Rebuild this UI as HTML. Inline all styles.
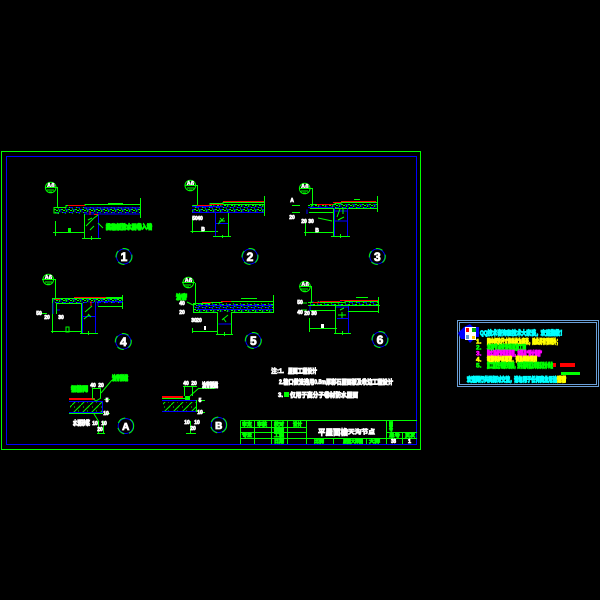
<!DOCTYPE html>
<html><head><meta charset="utf-8"><style>
html,body{margin:0;padding:0;background:#000;width:600px;height:600px;overflow:hidden}
svg{display:block}
text{font-family:"Liberation Sans","Noto Sans CJK SC",sans-serif;font-weight:bold}
.g{stroke:#0f0;fill:none;stroke-width:1}
.b{stroke:#00f;fill:none;stroke-width:1}
.r{stroke:#f00;fill:none;stroke-width:1}
.bt{fill:#0f0;stroke:#0f0;stroke-width:.8}
.wt{fill:#fff;stroke:#fff;stroke-width:.7}
.d{fill:#fff;stroke:#fff;stroke-width:.7;font-size:5px;text-anchor:middle}
.n{fill:#fff;stroke:#fff;stroke-width:.8;font-size:12px;text-anchor:middle}
.bl{fill:#fff;stroke:#fff;stroke-width:.5;font-size:6px;text-anchor:middle}
.p{stroke-width:.9}
</style></head><body>
<svg width="600" height="600" viewBox="0 0 600 600" xmlns="http://www.w3.org/2000/svg">
<defs>
<pattern id="h" width="7" height="5" patternUnits="userSpaceOnUse">
<path d="M0 .5h2M4 0l-1 2M6 2.5h1M2 3.5l1 1M5 4.5h2" stroke="#0f0" stroke-width="1" fill="none"/>
<path d="M0 2.5h3M5 .5v2M3 4.5h2" stroke="#00f" stroke-width="1" fill="none"/>
</pattern>
<pattern id="x" width="9" height="9" patternUnits="userSpaceOnUse">
<path d="M0 9L9 0M2 2h1M6 6h1M7 2h.8" stroke="#0f0" stroke-width="1" fill="none"/>
</pattern>
</defs>
<rect width="600" height="600" fill="#000"/>
<g shape-rendering="crispEdges">
<rect x="1.5" y="151.5" width="419" height="298" class="g"/>
<rect x="6.5" y="156.5" width="410" height="288" class="b"/>
<path class="g" d="M240.5 420.5H417M240.5 420.5V444M254.5 420.5V444M271.5 420.5V444M287.5 420.5V444M306.5 420.5V444M386.5 420.5V444M240 427.5H306M240 432.5H306M386 432.5H417M240 438.5H417M333.5 438.5V444M366.5 438.5V444M402.5 432.5V444"/>
</g>
<g font-size="5">
<text class="bt" x="242" y="426" textLength="10" lengthAdjust="spacingAndGlyphs">审定</text>
<text class="bt" x="257" y="426" textLength="10" lengthAdjust="spacingAndGlyphs">审核</text>
<text class="bt" x="274" y="426" textLength="10" lengthAdjust="spacingAndGlyphs">校对</text>
<text class="bt" x="293" y="426" textLength="9" lengthAdjust="spacingAndGlyphs">设计</text>
<text class="bt" x="274" y="432" textLength="10" lengthAdjust="spacingAndGlyphs">制图</text>
<text class="bt" x="242" y="437" textLength="10" lengthAdjust="spacingAndGlyphs">专业</text>
<text class="bt" x="274" y="437" textLength="10" lengthAdjust="spacingAndGlyphs">工程</text>
<text class="bt" x="274" y="443" textLength="10" lengthAdjust="spacingAndGlyphs">日期</text>
<text class="bt" x="314" y="443" textLength="10" lengthAdjust="spacingAndGlyphs">比例</text>
<text class="bt" x="343" y="443" textLength="20" lengthAdjust="spacingAndGlyphs">屋面大样图</text>
<text class="bt" x="369" y="443" textLength="11" lengthAdjust="spacingAndGlyphs">大样</text>
<text class="bt" x="389" y="426" textLength="4" lengthAdjust="spacingAndGlyphs">图</text>
<text class="bt" x="389" y="431" textLength="4" lengthAdjust="spacingAndGlyphs">号</text>
<text class="bt" x="389" y="437" textLength="11" lengthAdjust="spacingAndGlyphs">总号</text>
<text class="bt" x="405" y="437" textLength="10" lengthAdjust="spacingAndGlyphs">页次</text>
<text class="wt" x="391" y="443" textLength="5" lengthAdjust="spacingAndGlyphs">38</text>
<text class="wt" x="408" y="443" textLength="3" lengthAdjust="spacingAndGlyphs">1</text>
</g>
<text class="wt" x="318" y="435" font-size="8" textLength="30" lengthAdjust="spacingAndGlyphs">平屋面檐</text>
<text class="wt" x="348" y="434" font-size="6" textLength="27" lengthAdjust="spacingAndGlyphs">天沟节点</text>

<!-- detail 1 -->
<rect x="54" y="207" width="86" height="7" fill="url(#h)"/>
<g shape-rendering="crispEdges">
<path class="b" d="M84 208H140M84 214H140"/>
<path class="g" d="M54 207.5H66V205.5H85V204.5H140M54 207V213H59M140.5 198V218M108 203.5H123M57.5 187V207M84.5 214V238M82 238.5H101M55.5 221V236M53 232.5H84M91.5 236v4"/>
<path class="b" d="M98.5 214V238"/>
<path class="r" d="M68 205.5H85M90 211V215M94 214.5H98"/>
<rect x="68" y="228" width="3" height="4" fill="#0f0"/>
</g>
<path d="M86 226l8-8 4-3M88 220l4-2M90 230l4-4M98 223l5 5" class="g"/>
<text class="bt" x="106" y="229" font-size="6.5" textLength="46" lengthAdjust="spacingAndGlyphs" style="stroke-width:1.2">挑檐板防水层卷入墙</text>
<g><circle cx="50.7" cy="187.5" r="5.3" fill="none" stroke="#0f0"/><text class="bl" x="50.7" y="187.5">A6</text><path class="g" d="M45 187.5H57M47 190h7M49 192h3"/></g>
<circle cx="124" cy="256.5" r="7.5" fill="none" stroke="#00f"/><circle cx="124" cy="256.5" r="8" fill="none" stroke="#0f0" stroke-dasharray="7 5"/><text class="n" x="124" y="261">1</text>

<!-- detail 2 -->
<rect x="192" y="205" width="72" height="8" fill="url(#h)"/>
<g shape-rendering="crispEdges">
<path class="b" d="M192 212.5H264M192 206.5H223"/>
<path class="g" d="M193 205.5H210V203.5H223V202.5H264M264.5 196V216M222 204.5H264M197.5 185V205M228.5 213V236M213 236.5H231M192.5 217V233M190.5 231.5H218M222.5 235v3"/>
<path class="r" d="M197 205.5H210M210 204.5H223M223 201.5H264"/>
<path class="b" d="M215.5 213V236M216 223.5H228"/>
</g>
<path class="g" d="M218 224l6-6M220 218l3 3M219 221h6"/>
<text class="d" x="195" y="220">50</text><text class="d" x="200" y="220">40</text><text class="d" x="203" y="231">B</text>
<g><circle cx="190.3" cy="185.5" r="5.3" fill="none" stroke="#0f0"/><text class="bl" x="190.3" y="185.5">A6</text><path class="g" d="M185 185.5H197M187 188h7M189 190h3"/></g>
<circle cx="250" cy="256.5" r="7.5" fill="none" stroke="#00f"/><circle cx="250" cy="256.5" r="8" fill="none" stroke="#0f0" stroke-dasharray="7 5"/><text class="n" x="250" y="261">2</text>

<!-- detail 3 -->
<rect x="308" y="204" width="70" height="5" fill="url(#h)"/>
<g shape-rendering="crispEdges">
<path class="b" d="M307 209.5V214M310 207.5H333M333 211H347"/>
<path class="g" d="M310 204.5H335V203.5H341V202.5H377M377.5 196V212M310 208.5H377M309 212.5H333M312.5 188V206M305.5 220V236M304 232.5H335M292 205.5H300M292 212.5H300M333.5 208V237M331 236.5H350M340.5 234v4M347.5 209V214M354 199.5H360"/>
<path class="b" d="M334.5 208V236M347.5 208V236M335 221H347"/>
<path class="r" d="M317 204.5H333M333 202.5H341M341 201.5H376"/>
</g>
<path class="g" d="M338 220l6-3M337 217l3-8M343 209v5M318 218l14 3"/>
<text class="d" x="292" y="202">A</text><text class="d" x="292" y="219">20</text><text class="d" x="304" y="223">20</text><text class="d" x="311" y="223">30</text><text class="d" x="317" y="232">B</text>
<g><circle cx="304.7" cy="188.5" r="5.3" fill="none" stroke="#0f0"/><text class="bl" x="304.7" y="188.5">A6</text><path class="g" d="M299 188.5H312M301 191h7M303 193h3"/></g>
<circle cx="377.3" cy="256.5" r="7.5" fill="none" stroke="#00f"/><circle cx="377.3" cy="256.5" r="8" fill="none" stroke="#0f0" stroke-dasharray="7 5"/><text class="n" x="377.3" y="261">3</text>

<!-- detail 4 -->
<rect x="52" y="299" width="71" height="4" fill="url(#h)"/>
<g shape-rendering="crispEdges">
<path class="g" d="M52 298.5H123M52.5 299V320M56.5 303V314M56 303.5H81M98 306.5H122M122.5 295V309M55.5 279V298M52.5 320V333M51 331.5H82M81.5 303V333M80 333.5H98M88.5 331v4M40 313.5H47M66 299v2M106 297.5H123"/>
<path class="b" d="M53 303V314M82.5 303V333M95.5 302V333M83 316.5H95M98 301.5H123M98 301V306M57 310H60"/>
<path class="r" d="M74 297.5H106M55 299.5H60M91 301V306"/>
<rect x="66" y="327" width="3" height="5" fill="none" stroke="#0f0"/>
</g>
<path class="g" d="M85 312l7-6M84 319l5-4M88 314l3 3"/>
<text class="d" x="39" y="315">50</text><text class="d" x="47" y="319">20</text><text class="d" x="61" y="319">30</text>
<g><circle cx="48.3" cy="279.5" r="5.3" fill="none" stroke="#0f0"/><text class="bl" x="48.3" y="279.5">A6</text><path class="g" d="M42 279.5H55M45 282h7M47 284h3"/></g>
<circle cx="123.3" cy="341.5" r="7.5" fill="none" stroke="#00f"/><circle cx="123.3" cy="341.5" r="8" fill="none" stroke="#0f0" stroke-dasharray="7 5"/><text class="n" x="123.3" y="346">4</text>

<!-- detail 5 -->
<rect x="194" y="303" width="79" height="9" fill="url(#h)"/>
<g shape-rendering="crispEdges">
<path class="b" d="M197 305.5H273M197 309.5H273M218.5 324H231"/>
<path class="g" d="M193 303.5H210V302.5H222V301.5H273M273.5 295V313M193.5 303V312M193 312.5H218M231 312.5H273M195.5 283V304M217.5 312V334M231.5 312V334M216 334.5H233M224.5 332v4M192.5 328V333M192 331.5H218M241 298.5H257"/>
<path class="r" d="M202 302.5H211M221 301.5H231"/>
<rect x="204" y="326" width="2" height="4" fill="#fff"/>
</g>
<path class="g" d="M222 320l6-5M223 318l3 4M187 302l6 3"/>
<text class="bt" x="176" y="299" font-size="6.5" textLength="11" lengthAdjust="spacingAndGlyphs" style="stroke-width:1.2">油膏</text>
<text class="d" x="182" y="305">40</text><text class="d" x="182" y="314">20</text><text class="d" x="194" y="322">30</text><text class="d" x="199" y="322">20</text>
<g><circle cx="188.3" cy="282.5" r="5.3" fill="none" stroke="#0f0"/><text class="bl" x="188.3" y="282.5">A6</text><path class="g" d="M182 282.5H195M184 285h7M186 287h3"/></g>
<circle cx="253.3" cy="340.5" r="7.5" fill="none" stroke="#00f"/><circle cx="253.3" cy="340.5" r="8" fill="none" stroke="#0f0" stroke-dasharray="7 5"/><text class="n" x="253.3" y="345">5</text>

<!-- detail 6 -->
<rect x="310" y="301" width="68" height="5" fill="url(#h)"/>
<g shape-rendering="crispEdges">
<path class="b" d="M310 306v5M336 307H348M348.5 306V333M337 318.5H348"/>
<path class="g" d="M308 302.5H345V301.5H378M308 305.5H380M378.5 297V313M311.5 286V302M310 310.5H336M348 311.5H378M335.5 306V333M334 333.5H351M342.5 331v4M309.5 318V332M309 328.5H337M356 297.5H368M302 303h5M302 310h5"/>
<path class="r" d="M313 302.5H320M320 301.5H340M340 300.5H378"/>
<rect x="321" y="324" width="3" height="4" fill="#fff"/>
</g>
<path class="g" d="M338 315h8M342 312v6M340 310l4-2"/>
<text class="d" x="300" y="304">50</text><text class="d" x="300" y="314">40</text><text class="d" x="307" y="315">20</text><text class="d" x="314" y="315">30</text>
<g><circle cx="305" cy="286.5" r="5.3" fill="none" stroke="#0f0"/><text class="bl" x="305" y="286.5">A6</text><path class="g" d="M299 286.5H311M301 289h7M303 291h3"/></g>
<circle cx="380" cy="339.5" r="7.5" fill="none" stroke="#00f"/><circle cx="380" cy="339.5" r="8" fill="none" stroke="#0f0" stroke-dasharray="7 5"/><text class="n" x="380" y="344">6</text>

<!-- detail A -->
<rect x="70" y="402" width="33" height="11" fill="url(#x)"/>
<g shape-rendering="crispEdges">
<rect x="69" y="398" width="26" height="2" fill="#f00"/>
<path class="b" d="M69 401.5H103M102.5 401V413M69 412.5H103"/>
<path class="g" d="M69 413.5H103M92.5 389V398M100.5 389V398M92 388.5H101M104 399.5H110M104 413.5H110M98.5 421V433M103.5 421V433M97 433.5H105"/>
</g>
<path class="g" d="M92 398l4 3 5-3M101 393L112 380M94 414l5 8"/>
<text class="bt" x="112" y="380" font-size="6.5" textLength="16" lengthAdjust="spacingAndGlyphs" style="stroke-width:1.2">油膏嵌缝</text>
<text class="bt" x="71" y="391" font-size="6.5" textLength="17" lengthAdjust="spacingAndGlyphs" style="stroke-width:1.2">钢筋网</text>
<text class="wt" x="73" y="425" font-size="6.5" textLength="17" lengthAdjust="spacingAndGlyphs" style="stroke-width:1">水泥砂浆</text>
<text class="d" x="93" y="387">40</text><text class="d" x="101" y="387">20</text><text class="d" x="107" y="402">5</text><text class="d" x="106" y="415">10</text><text class="d" x="95" y="425">10</text><text class="d" x="104" y="425">10</text><text class="d" x="100" y="431">20</text>
<circle cx="125.7" cy="426" r="7.5" fill="none" stroke="#00f"/><circle cx="125.7" cy="426" r="8" fill="none" stroke="#0f0" stroke-dasharray="9 5"/><text class="n" x="125.7" y="430" style="font-size:10px">A</text>

<!-- detail B -->
<rect x="163" y="402" width="33" height="10" fill="url(#x)"/>
<g shape-rendering="crispEdges">
<rect x="162" y="396" width="21" height="2" fill="#f00"/>
<rect x="185" y="396" width="5" height="4" fill="#0f0"/>
<path class="b" d="M162 400.5H196M162 411.5H197"/>
<path class="g" d="M162 398.5H185M184.5 387V396M192.5 387V396M183 386.5H197M196.5 400V412M198 400.5H205M198 412.5H205M190.5 421V433M186 433.5H196M199 388.5H215"/>
</g>
<path class="g" d="M190 396l9-8"/>
<text class="wt" x="202" y="387" font-size="6.5" textLength="16" lengthAdjust="spacingAndGlyphs" style="stroke-width:1">油膏嵌缝</text>
<text class="d" x="186" y="385">40</text><text class="d" x="194" y="385">20</text><text class="d" x="200" y="402">5</text><text class="d" x="200" y="414">10</text><text class="d" x="187" y="424">10</text><text class="d" x="197" y="424">10</text><text class="d" x="193" y="430">20</text>
<circle cx="218.7" cy="425" r="7.5" fill="none" stroke="#00f"/><circle cx="218.7" cy="425" r="8" fill="none" stroke="#0f0" stroke-dasharray="9 5"/><text class="n" x="218.7" y="429" style="font-size:10px">B</text>

<!-- notes -->
<g font-size="6.5">
<text class="wt" x="271" y="373" textLength="13" lengthAdjust="spacingAndGlyphs">注:1.</text>
<text class="wt" x="288" y="373" textLength="29" lengthAdjust="spacingAndGlyphs" style="stroke-width:.9">屋面工程设计</text>
<text class="wt" x="279" y="384" textLength="114" lengthAdjust="spacingAndGlyphs" style="stroke-width:.9">2.檐口做法选用0.5m厚彩石屋面板及收边工程设计</text>
<text class="wt" x="278" y="397" textLength="5" lengthAdjust="spacingAndGlyphs">3.</text>
<text class="wt" x="290" y="397" textLength="68" lengthAdjust="spacingAndGlyphs" style="stroke-width:.9">仅用于高分子卷材防水屋面</text>
</g>
<rect x="284" y="392" width="5" height="5" fill="#0f0"/>

<!-- info panel -->
<g shape-rendering="crispEdges">
<rect x="457.5" y="320.5" width="141" height="66" fill="none" stroke="#6a9fd8"/>
<rect x="459.5" y="322.5" width="137" height="62" fill="none" stroke="#6a9fd8"/>
</g>
<path d="M470 324l3 3h6v10l-3 0-6 6-3-4h-6l-3-6 3-3 3-3z" fill="#00f"/>
<rect x="465" y="327" width="11" height="13" fill="#fff"/>
<rect x="466" y="328" width="3" height="4" fill="#f00"/><rect x="472" y="328" width="4" height="4" fill="#0a0"/><rect x="466" y="335" width="3" height="4" fill="#69c"/><rect x="472" y="336" width="3" height="3" fill="#fc0"/>
<g font-size="6.5">
<text x="480" y="335" textLength="85" lengthAdjust="spacingAndGlyphs" style="fill:#0ff;stroke:#0ff;stroke-width:1.1">QQ技术咨询和技术大家谈，欢迎指教！</text>
<text x="476" y="343.5" style="fill:#ff0;stroke:#ff0;stroke-width:.6">1.</text>
<text x="487" y="343.5" textLength="73" lengthAdjust="spacingAndGlyphs" style="fill:#ff0;stroke:#ff0;stroke-width:1.2">图中标注尺寸的单位为毫米，除此另有说明外；</text>
<text x="476" y="349.5" style="fill:#0f0;stroke:#0f0;stroke-width:.6">2.</text>
<text x="487" y="349.5" textLength="39" lengthAdjust="spacingAndGlyphs" style="fill:#0f0;stroke:#0f0;stroke-width:1.2">本图节点做法详见施工图</text>
<text x="476" y="355.5" style="fill:#f0f;stroke:#f0f;stroke-width:.6">3.</text>
<text x="487" y="355.5" textLength="55" lengthAdjust="spacingAndGlyphs" style="fill:#f0f;stroke:#f0f;stroke-width:1.2">防水层做法详见说明，材料见“设计说明”</text>
<text x="476" y="361.5" style="fill:#ff0;stroke:#ff0;stroke-width:.6">4.</text>
<text x="487" y="361.5" textLength="50" lengthAdjust="spacingAndGlyphs" style="fill:#ff0;stroke:#ff0;stroke-width:1.2">钢筋保护层厚度，详见结构说明</text>
<text x="476" y="367.5" style="fill:#0f0;stroke:#0f0;stroke-width:.6">5.</text>
<text x="487" y="367.5" textLength="66" lengthAdjust="spacingAndGlyphs" style="fill:#0f0;stroke:#0f0;stroke-width:1.2">施工前应仔细核对图纸，如有疑问请及时联系设计单位</text>
<text x="467" y="381.5" textLength="90" lengthAdjust="spacingAndGlyphs" style="fill:#0ff;stroke:#0ff;stroke-width:1.2">欢迎同行共同探讨交流，请勿用于任何商业用途</text>
<text x="557" y="381.5" textLength="9" lengthAdjust="spacingAndGlyphs" style="fill:#ff0;stroke:#ff0;stroke-width:1.2">谢谢</text>
</g>
<rect x="553" y="363" width="3" height="4" fill="#f00"/>
<rect x="560" y="363" width="15" height="4" fill="#f00"/>
<rect x="561" y="372" width="19" height="3" fill="#0f0"/>
</svg>
</body></html>
